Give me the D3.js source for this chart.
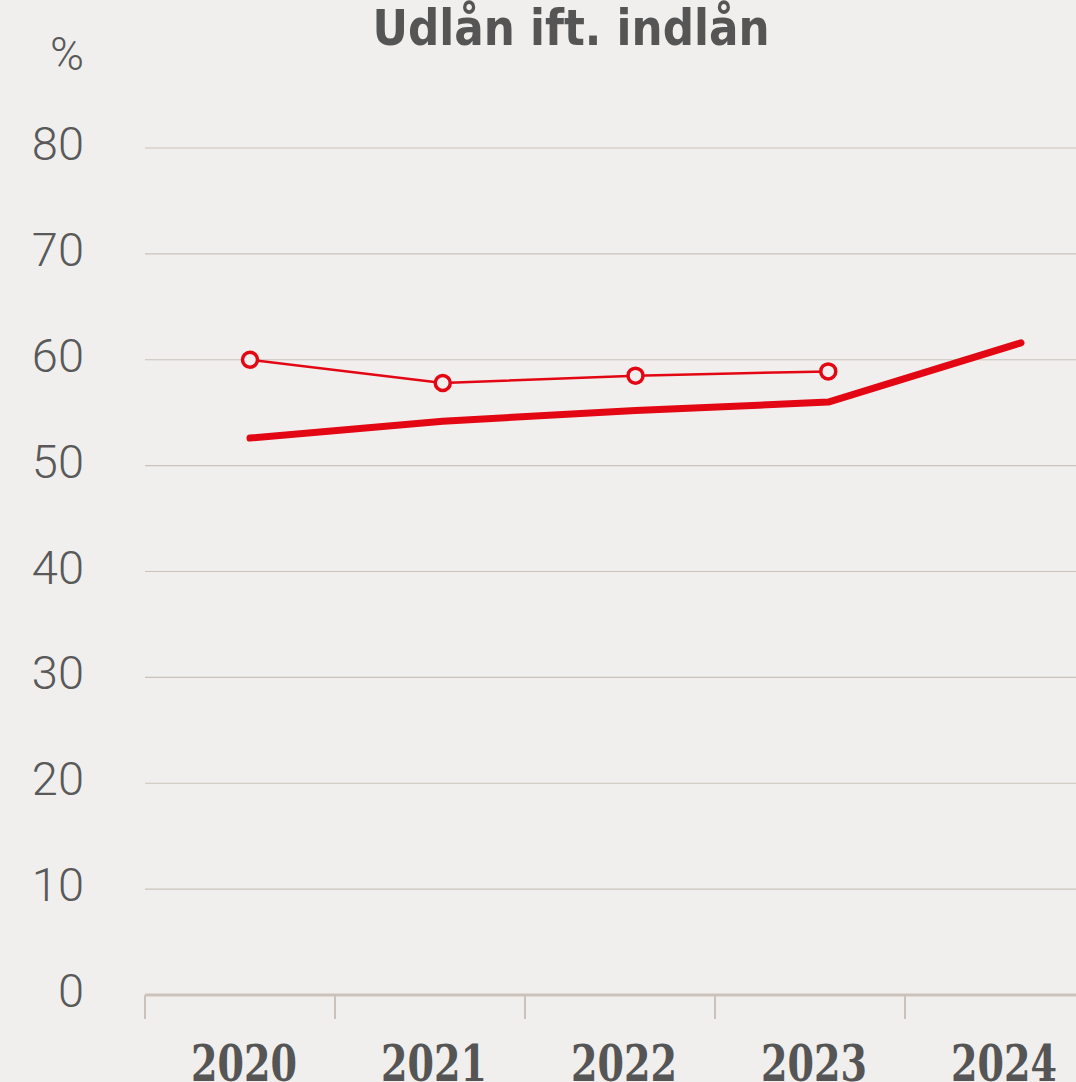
<!DOCTYPE html>
<html>
<head>
<meta charset="utf-8">
<script src="https://cdn.jsdelivr.net/npm/d3@7"></script>
<style>
  body { margin: 0; background: #f0efed; }
  svg { display: block; }
</style>
</head>
<body>
<div class="chart"></div>
<script>
var svgWidth = 1076;
var svgHeight = 1082;

// data
var years = ["2020", "2021", "2022", "2023", "2024"];
var thickValues = [52.6, 54.2, 55.2, 56.0, 61.6];
var thinYears = ["2020", "2021", "2022", "2023"];
var thinValues = [60.0, 57.8, 58.5, 58.9];
var yTicks = [0, 10, 20, 30, 40, 50, 60, 70, 80];

var margin = { top: 148, right: 0, bottom: 87, left: 145 };
var height = svgHeight - margin.top - margin.bottom;

var svg = d3.select(".chart")
    .append("svg")
    .attr("width", svgWidth)
    .attr("height", svgHeight);

svg.append("rect")
    .attr("width", svgWidth)
    .attr("height", svgHeight)
    .attr("fill", "#f0efed");

var yScale = d3.scaleLinear()
    .domain([0, 80])
    .range([margin.top + height, margin.top]);

// category bands for ticks and labels
var xBand = d3.scaleBand()
    .domain(years)
    .range([145, 1095]);

// points sit a bit right of band centre
var xPoint = d3.scalePoint()
    .domain(years)
    .range([250, 1021]);

// gridlines
svg.append("g")
    .selectAll("line")
    .data(yTicks.filter(d => d > 0))
    .enter()
    .append("line")
    .attr("x1", 145)
    .attr("x2", svgWidth)
    .attr("y1", d => yScale(d))
    .attr("y2", d => yScale(d))
    .attr("stroke", "#cbc3bb")
    .attr("stroke-width", 1.2);

// y labels
svg.append("g")
    .selectAll("text")
    .data(yTicks)
    .enter()
    .append("text")
    .attr("x", 84)
    .attr("y", d => yScale(d) + 12)
    .attr("text-anchor", "end")
    .attr("font-family", "Roboto")
    .attr("font-weight", 300)
    .attr("font-size", 47)
    .attr("fill", "#595959")
    .text(d => d);

svg.append("text")
    .attr("x", 84)
    .attr("y", 70)
    .attr("text-anchor", "end")
    .attr("font-family", "Roboto")
    .attr("font-weight", 300)
    .attr("font-size", 46)
    .attr("fill", "#595959")
    .text("%");

// x axis
var xAxis = svg.append("g")
    .attr("transform", `translate(0, ${yScale(0)})`);

xAxis.append("line")
    .attr("x1", 145)
    .attr("x2", svgWidth)
    .attr("stroke", "#cbc3bb")
    .attr("stroke-width", 3);

xAxis.selectAll(".tick")
    .data(years)
    .enter()
    .append("line")
    .attr("x1", d => xBand(d))
    .attr("x2", d => xBand(d))
    .attr("y1", 0)
    .attr("y2", 24)
    .attr("stroke", "#cbc3bb")
    .attr("stroke-width", 2);

xAxis.selectAll(".label")
    .data(years)
    .enter()
    .append("text")
    .attr("x", d => xBand(d) + xBand.bandwidth() / 2 + 4)
    .attr("y", 86)
    .attr("text-anchor", "middle")
    .attr("font-family", "DejaVu Serif Condensed, DejaVu Serif")
    .attr("font-weight", "bold")
    .attr("font-size", 50)
    .attr("textLength", 106)
    .attr("lengthAdjust", "spacingAndGlyphs")
    .attr("fill", "#555555")
    .text(d => d);

// title
svg.append("text")
    .attr("x", 571)
    .attr("y", 45)
    .attr("text-anchor", "middle")
    .attr("font-family", "DejaVu Sans Condensed, DejaVu Sans")
    .attr("font-weight", "bold")
    .attr("font-size", 49)
    .attr("textLength", 397)
    .attr("lengthAdjust", "spacingAndGlyphs")
    .attr("fill", "#555555")
    .text("Udlån ift. indlån");

var red = "#e30613";

var thickLine = d3.line()
    .x((d, i) => xPoint(years[i]))
    .y(d => yScale(d));

svg.append("path")
    .datum(thickValues)
    .attr("d", thickLine)
    .attr("fill", "none")
    .attr("stroke", red)
    .attr("stroke-width", 7)
    .attr("stroke-linecap", "round")
    .attr("stroke-linejoin", "round");

var thinLine = d3.line()
    .x((d, i) => xPoint(thinYears[i]))
    .y(d => yScale(d));

svg.append("path")
    .datum(thinValues)
    .attr("d", thinLine)
    .attr("fill", "none")
    .attr("stroke", red)
    .attr("stroke-width", 2.5);

svg.append("g")
    .selectAll("circle")
    .data(thinValues)
    .enter()
    .append("circle")
    .attr("cx", (d, i) => xPoint(thinYears[i]))
    .attr("cy", d => yScale(d))
    .attr("r", 7.5)
    .attr("fill", "#f0efed")
    .attr("stroke", red)
    .attr("stroke-width", 3.5);
</script>
</body>
</html>
